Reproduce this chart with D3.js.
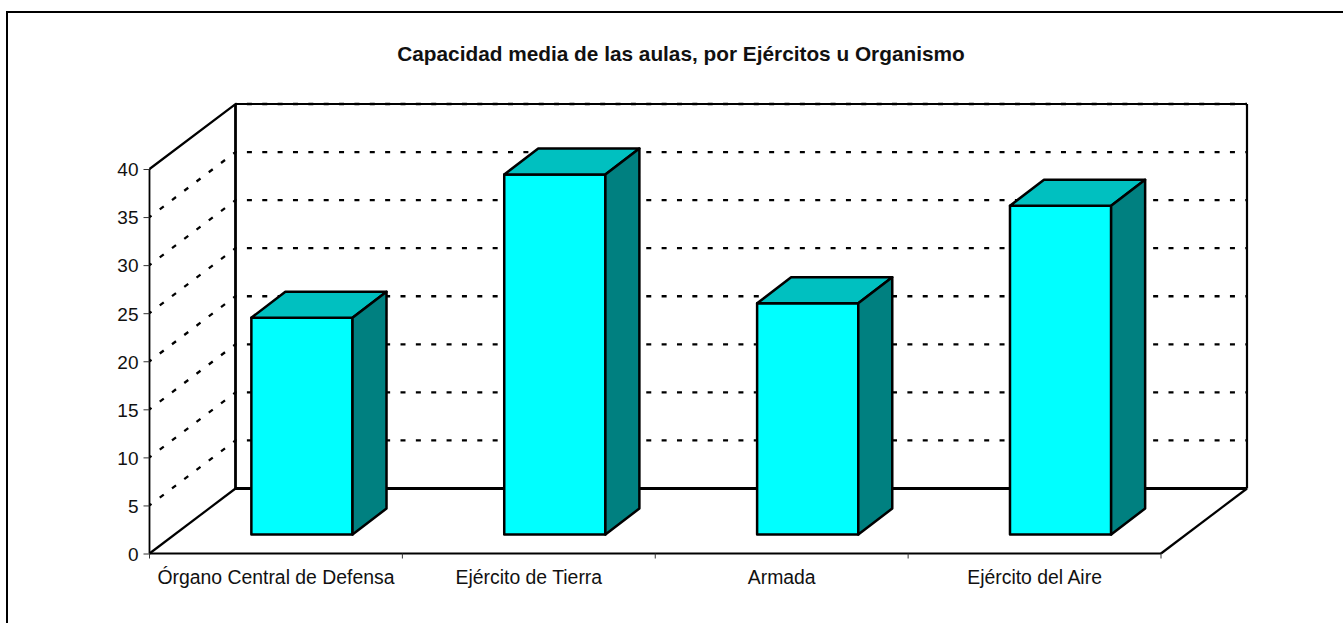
<!DOCTYPE html>
<meta charset="utf-8">
<script src="https://d3js.org/d3.v7.min.js"></script>
<head>
  <style>
  body {
    margin: 0;
    background: #fff;
    overflow: hidden;
  }
  text {
    font-family: "Liberation Sans", Arial, Helvetica, sans-serif;
    fill: #111;
  }
  </style>
</head>
<html><body>
<div id="my_dataviz"></div>

<script>

// data
const categories = ["Órgano Central de Defensa", "Ejército de Tierra", "Armada", "Ejército del Aire"];
const values = [22.55, 37.45, 24.05, 34.2];
const yTicks = [0, 5, 10, 15, 20, 25, 30, 35, 40];
const chartTitle = "Capacidad media de las aulas, por Ejércitos u Organismo";

const W = 1343, H = 623;

// front plane of the box, and how far back the wall sits
const x0 = 149.5, x1 = 1161, yBottom = 553.5, yTop = 169;
const depthX = 86, depthY = -65;
// bars stand a bit into the floor and have their own depth
const barOffX = 26, barOffY = -19;
const barDepthX = 34, barDepthY = -26;

const svg = d3.select("#my_dataviz")
  .append("svg")
    .attr("width", W)
    .attr("height", H)
    .style("display", "block");

const x = d3.scaleBand()
  .domain(categories)
  .range([x0, x1])
  .paddingInner(0.6)
  .paddingOuter(0.3);

const y = d3.scaleLinear()
  .domain([0, 40])
  .range([yBottom, yTop]);

// outer frame, only top and left are in the picture
svg.append("path")
  .attr("d", `M7,${H}V12H${W}`)
  .attr("fill", "none")
  .attr("stroke", "#000")
  .attr("stroke-width", 2);

// title
svg.append("text")
  .attr("x", 681)
  .attr("y", 61)
  .attr("text-anchor", "middle")
  .attr("font-size", 20.8)
  .attr("font-weight", "bold")
  .text(chartTitle);

// dotted gridlines, side wall and back wall have their own dash phase
const gridLine = d3.line();
const grid = svg.append("g")
  .attr("fill", "none")
  .attr("stroke", "#000")
  .attr("stroke-width", 2.3)
  .attr("stroke-dasharray", "5 10.36");

grid.selectAll(".side")
  .data(yTicks.filter(d => d > 0 && d < 40))
  .join("path")
    .attr("class", "side")
    .attr("d", d => gridLine([[x0, y(d)], [x0 + depthX, y(d) + depthY]]))
    .attr("stroke-dashoffset", 2.5);

grid.selectAll(".back")
  .data(yTicks.filter(d => d > 0))
  .join("path")
    .attr("class", "back")
    .attr("d", d => gridLine([[x0 + depthX, y(d) + depthY], [x1 + depthX, y(d) + depthY]]))
    .attr("stroke-dashoffset", -11.4);

// box edges
const edges = [
  [[x0, yTop], [x0 + depthX, yTop + depthY], [x1 + depthX, yTop + depthY]],
  [[x0, yBottom], [x0 + depthX, yBottom + depthY]],
  [[x1, yBottom], [x1 + depthX, yBottom + depthY]],
  [[x1 + depthX, yTop + depthY], [x1 + depthX, yBottom + depthY]]
];
svg.append("g")
  .selectAll("path")
  .data(edges)
  .join("path")
    .attr("d", gridLine)
    .attr("fill", "none")
    .attr("stroke", "#000")
    .attr("stroke-width", 2.2);

// back wall left edge and floor line are heavier
svg.append("path")
  .attr("d", gridLine([
    [x0 + depthX, yTop + depthY],
    [x0 + depthX, yBottom + depthY],
    [x1 + depthX, yBottom + depthY]
  ]))
  .attr("fill", "none")
  .attr("stroke", "#000")
  .attr("stroke-width", 2.8);

// Y axis
const yAxis = svg.append("g")
  .attr("transform", `translate(${x0}, 0)`)
  .call(d3.axisLeft(y).tickValues(yTicks).tickSize(6).tickPadding(5));
yAxis.selectAll("text").attr("font-size", 19).attr("dy", "0.36em").attr("font-family", null);
yAxis.select(".domain").attr("stroke-width", 1.8).attr("d", `M0,${yTop}V${yBottom}`);
yAxis.selectAll(".tick line").attr("stroke", "#333");

// X axis, labels only, ticks go between the categories
const xAxis = svg.append("g")
  .attr("transform", `translate(0, ${yBottom})`)
  .call(d3.axisBottom(x).tickSize(0).tickPadding(17));
xAxis.selectAll("text").attr("font-size", 19.4).attr("font-family", null);
xAxis.select(".domain").attr("stroke-width", 1.8).attr("d", `M${x0},0H${x1}`);
xAxis.append("g")
  .selectAll("line")
  .data(d3.range(categories.length + 1))
  .join("line")
    .attr("x1", d => x0 + d * x.step())
    .attr("x2", d => x0 + d * x.step())
    .attr("y1", 0)
    .attr("y2", 5)
    .attr("stroke", "#333");

// 3D bars
const bars = svg.append("g")
  .selectAll("g")
  .data(categories.map((c, i) => ({c: c, v: values[i]})))
  .join("g")
    .attr("transform", `translate(${barOffX}, ${barOffY})`)
    .attr("stroke", "#000")
    .attr("stroke-width", 2.5)
    .attr("stroke-linejoin", "round");

bars.append("path")
  .attr("fill", "#00ffff")
  .attr("d", d => {
    const l = x(d.c), r = l + x.bandwidth();
    return `M${l},${y(0)}H${r}V${y(d.v)}H${l}Z`;
  });

bars.append("path")
  .attr("fill", "#00c0c0")
  .attr("d", d => {
    const l = x(d.c), r = l + x.bandwidth(), t = y(d.v);
    return `M${l},${t}L${l + barDepthX},${t + barDepthY}H${r + barDepthX}L${r},${t}Z`;
  });

bars.append("path")
  .attr("fill", "#008080")
  .attr("d", d => {
    const r = x(d.c) + x.bandwidth(), t = y(d.v), b = y(0);
    return `M${r},${t}L${r + barDepthX},${t + barDepthY}V${b + barDepthY}L${r},${b}Z`;
  });

</script>
</body></html>
